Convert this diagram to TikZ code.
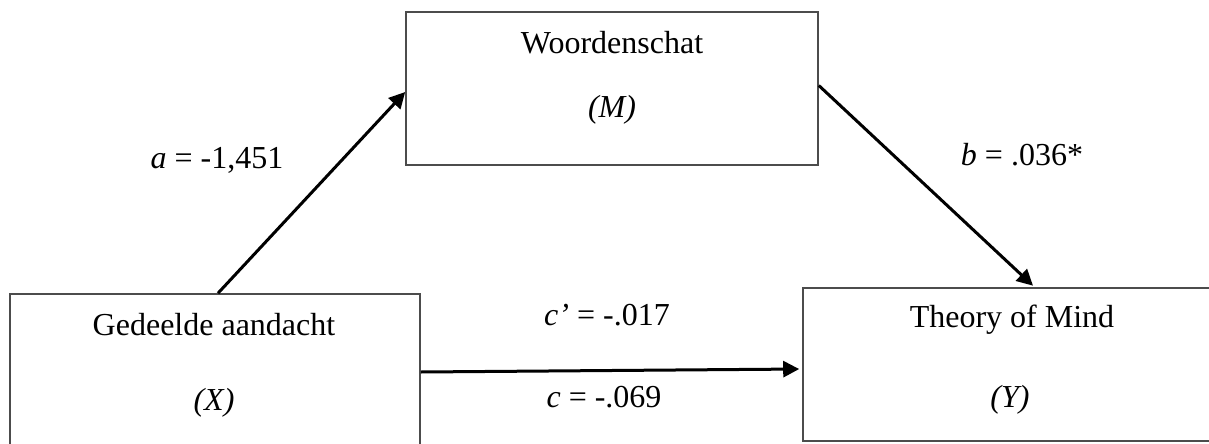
\documentclass[tikz,border=0pt]{standalone}
\usepackage{fontspec}
\setmainfont{Liberation Serif}
\usetikzlibrary{arrows.meta}
\begin{document}
\begin{tikzpicture}[x=1pt,y=-1pt,
  varbox/.style={draw=black!70, line width=1.6pt, minimum width=#1, minimum height=153pt, inner sep=0pt},
  varbox/.default=412pt,
  boxtext/.style={font=\fontsize{32}{38}\selectfont, inner sep=0pt},
  pathlabel/.style={font=\fontsize{32}{38}\selectfont, inner sep=0pt},
  patharrow/.style={line width=3pt, -{Triangle[length=16pt,width=16pt]}}]
  \useasboundingbox (0,0) rectangle (1209,444);
  \clip (0,0) rectangle (1209,444);

  % variable boxes
  \node[varbox=410pt] (X) at (215,370.5) {};
  \node[varbox=412pt] (M) at (612,88.5) {};
  \node[varbox=418pt] (Y) at (1012,364.5) {};

  % box captions
  \node[boxtext] (Xt) at (214,325) {Gedeelde aandacht};
  \node[boxtext] (Xs) at (214,403) {\itshape (X)};
  \node[boxtext] (Mt) at (612,43) {Woordenschat};
  \node[boxtext] (Ms) at (612,110) {\itshape (M)};
  \node[boxtext] (Yt) at (1012,320) {Theory of Mind};
  \node[boxtext] (Ys) at (1010,400) {\itshape (Y)};

  % mediation paths
  \draw[patharrow] ([xshift=3pt]X.north) -- ([yshift=-3.5pt]M.west);
  \draw[patharrow] ([yshift=3pt]M.east) -- ([xshift=21pt,yshift=1.5pt]Y.north);
  \draw[patharrow, shorten >=3pt] ([yshift=-1.5pt]X.east) -- ([yshift=-4.5pt]Y.west);

  % path coefficients
  \node[pathlabel] (la) at (217,160) {\textit{a} = -1,451};
  \node[pathlabel] (lb) at (1022,155) {\textit{b} = .036*};
  \node[pathlabel] (lcp) at (607,315) {\textit{c’} = -.017};
  \node[pathlabel] (lc) at (604,397) {\textit{c} = -.069};
\end{tikzpicture}
\end{document}
